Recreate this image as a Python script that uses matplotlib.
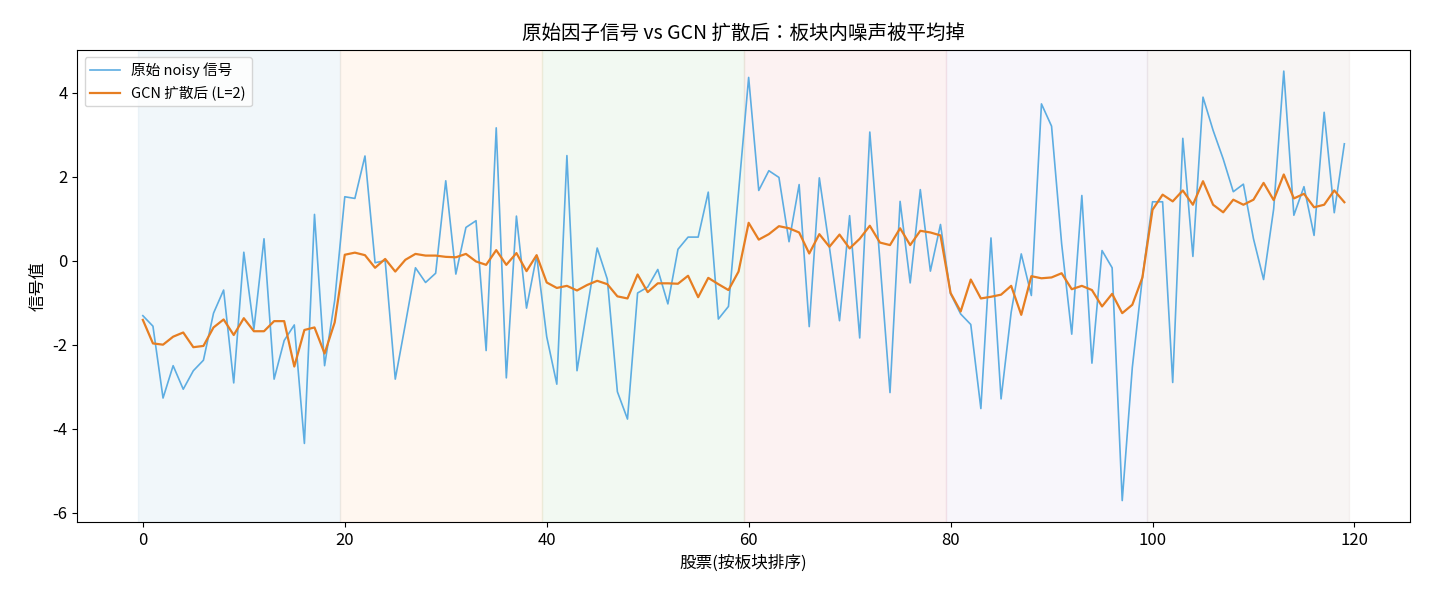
import numpy as np
import matplotlib
matplotlib.use('Agg')
import matplotlib.pyplot as plt

plt.rcParams['font.family'] = ['Noto Sans CJK JP', 'DejaVu Sans']
plt.rcParams['axes.unicode_minus'] = False

N_SECTORS = 6
SECTOR_SIZE = 20

# raw noisy factor signal, stocks sorted by sector
noisy = [
    -1.31, -1.56, -3.27, -2.50, -3.06, -2.62, -2.37, -1.25, -0.70, -2.91,
    0.20, -1.63, 0.52, -2.82, -1.90, -1.53, -4.35, 1.10, -2.50, -0.95,
    1.52, 1.48, 2.49, -0.05, 0.00, -2.82, -1.51, -0.17, -0.52, -0.30,
    1.90, -0.32, 0.79, 0.95, -2.14, 3.16, -2.79, 1.06, -1.13, 0.12,
    -1.81, -2.94, 2.50, -2.62, -1.15, 0.30, -0.44, -3.12, -3.77, -0.77,
    -0.63, -0.21, -1.03, 0.27, 0.56, 0.56, 1.63, -1.39, -1.09, 1.63,
    4.36, 1.67, 2.14, 1.98, 0.45, 1.81, -1.57, 1.97, 0.32, -1.43,
    1.07, -1.84, 3.06, 0.00, -3.14, 1.41, -0.53, 1.69, -0.25, 0.86,
    -0.79, -1.27, -1.52, -3.52, 0.54, -3.29, -1.23, 0.16, -0.83, 3.73,
    3.20, 0.40, -1.75, 1.55, -2.44, 0.24, -0.17, -5.71, -2.54, -0.40,
    1.40, 1.40, -2.90, 2.91, 0.10, 3.89, 3.10, 2.42, 1.64, 1.82,
    0.52, -0.45, 1.23, 4.51, 1.08, 1.76, 0.60, 3.53, 1.14, 2.78,
]

# after 2-layer GCN diffusion
gcn = [
    -1.41, -1.97, -2.00, -1.81, -1.71, -2.06, -2.03, -1.59, -1.40, -1.77,
    -1.37, -1.68, -1.68, -1.44, -1.44, -2.52, -1.65, -1.59, -2.21, -1.47,
    0.14, 0.19, 0.13, -0.17, 0.04, -0.26, 0.02, 0.16, 0.12, 0.12,
    0.09, 0.08, 0.16, -0.02, -0.10, 0.25, -0.10, 0.18, -0.25, 0.13,
    -0.52, -0.65, -0.60, -0.71, -0.58, -0.48, -0.56, -0.85, -0.90, -0.33,
    -0.75, -0.54, -0.54, -0.55, -0.36, -0.87, -0.41, -0.56, -0.70, -0.26,
    0.90, 0.50, 0.63, 0.82, 0.77, 0.67, 0.17, 0.63, 0.33, 0.62,
    0.29, 0.52, 0.83, 0.43, 0.37, 0.77, 0.37, 0.71, 0.67, 0.60,
    -0.77, -1.21, -0.45, -0.90, -0.86, -0.81, -0.60, -1.29, -0.37, -0.42,
    -0.40, -0.30, -0.68, -0.60, -0.70, -1.09, -0.79, -1.25, -1.05, -0.40,
    1.21, 1.57, 1.41, 1.67, 1.33, 1.89, 1.33, 1.15, 1.45, 1.33,
    1.45, 1.85, 1.44, 2.05, 1.48, 1.59, 1.27, 1.33, 1.67, 1.39,
]

sector_colors = ['tab:blue', 'tab:orange', 'tab:green', 'tab:red', 'tab:purple', 'tab:brown']

x = np.arange(len(noisy))

fig = plt.figure(figsize=(14.3, 5.98), dpi=100)
ax = fig.add_axes([0.054, 0.127, 0.932, 0.79])

for k in range(N_SECTORS):
    ax.axvspan(k * SECTOR_SIZE - 0.5, (k + 1) * SECTOR_SIZE - 0.5,
               color=sector_colors[k], alpha=0.06)

ax.plot(x, noisy, color='#5DADE2', lw=1.2, label='原始 noisy 信号')
ax.plot(x, gcn, color='#E67E22', lw=1.6, label='GCN 扩散后 (L=2)')

ax.set_title('原始因子信号 vs GCN 扩散后：板块内噪声被平均掉', fontsize=14, pad=8)
ax.set_xlabel('股票(按板块排序)', fontsize=12)
ax.set_ylabel('信号值', fontsize=12)
ax.tick_params(labelsize=12)
ax.legend(loc='upper left', fontsize=10.5)

fig.savefig('out.png', dpi=100)
